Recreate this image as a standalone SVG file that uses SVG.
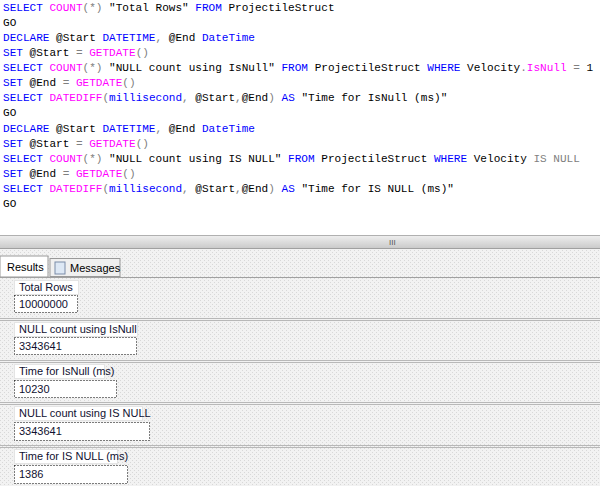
<svg xmlns="http://www.w3.org/2000/svg" width="600" height="486" viewBox="0 0 600 486">
<defs>
<style>
.c{font-family:"Liberation Mono",monospace;font-size:11.05px;fill:#000;white-space:pre}
.k{fill:#0000ff}.f{fill:#ff00ff}.g{fill:#808080}
.r{font-family:"Liberation Sans",Arial,sans-serif;font-size:11px;fill:#101030}
.hd{fill:#fff;stroke:#e4e4e4}
.vl{fill:#fff;stroke:#000;stroke-dasharray:1 2}
.sep{stroke:#b8b8b8;stroke-width:1}
</style>
<pattern id="dots" width="4" height="4" patternUnits="userSpaceOnUse">
<rect width="4" height="4" fill="#f2f2f2"/><rect width="1" height="1" fill="#d8d8d8"/><rect x="2" y="2" width="1" height="1" fill="#d8d8d8"/>
</pattern>
<linearGradient id="bar" x1="0" y1="0" x2="0" y2="1"><stop offset="0" stop-color="#f0f0f0"/><stop offset="1" stop-color="#c8c8c8"/></linearGradient>
</defs>
<rect width="600" height="486" fill="#fff"/>
<g id="code">
<text class="c" x="3" y="11"><tspan class="k">SELECT</tspan> <tspan class="f">COUNT</tspan><tspan class="g">(*)</tspan> "Total Rows" <tspan class="k">FROM</tspan> ProjectileStruct</text>
<text class="c" x="3" y="26">GO</text>
<text class="c" x="3" y="41"><tspan class="k">DECLARE</tspan> @Start <tspan class="k">DATETIME</tspan><tspan class="g">,</tspan> @End <tspan class="k">DateTime</tspan></text>
<text class="c" x="3" y="56"><tspan class="k">SET</tspan> @Start <tspan class="g">=</tspan> <tspan class="f">GETDATE</tspan><tspan class="g">()</tspan></text>
<text class="c" x="3" y="71"><tspan class="k">SELECT</tspan> <tspan class="f">COUNT</tspan><tspan class="g">(*)</tspan> "NULL count using IsNull" <tspan class="k">FROM</tspan> ProjectileStruct <tspan class="k">WHERE</tspan> Velocity<tspan class="g">.</tspan><tspan class="f">IsNull</tspan> <tspan class="g">=</tspan> 1</text>
<text class="c" x="3" y="86"><tspan class="k">SET</tspan> @End <tspan class="g">=</tspan> <tspan class="f">GETDATE</tspan><tspan class="g">()</tspan></text>
<text class="c" x="3" y="101"><tspan class="k">SELECT</tspan> <tspan class="f">DATEDIFF</tspan><tspan class="g">(</tspan><tspan class="k">millisecond</tspan><tspan class="g">,</tspan> @Start<tspan class="g">,</tspan>@End<tspan class="g">)</tspan> <tspan class="k">AS</tspan> "Time for IsNull (ms)"</text>
<text class="c" x="3" y="116">GO</text>
<text class="c" x="3" y="132"><tspan class="k">DECLARE</tspan> @Start <tspan class="k">DATETIME</tspan><tspan class="g">,</tspan> @End <tspan class="k">DateTime</tspan></text>
<text class="c" x="3" y="147"><tspan class="k">SET</tspan> @Start <tspan class="g">=</tspan> <tspan class="f">GETDATE</tspan><tspan class="g">()</tspan></text>
<text class="c" x="3" y="162"><tspan class="k">SELECT</tspan> <tspan class="f">COUNT</tspan><tspan class="g">(*)</tspan> "NULL count using IS NULL" <tspan class="k">FROM</tspan> ProjectileStruct <tspan class="k">WHERE</tspan> Velocity <tspan class="g">IS NULL</tspan></text>
<text class="c" x="3" y="177"><tspan class="k">SET</tspan> @End <tspan class="g">=</tspan> <tspan class="f">GETDATE</tspan><tspan class="g">()</tspan></text>
<text class="c" x="3" y="192"><tspan class="k">SELECT</tspan> <tspan class="f">DATEDIFF</tspan><tspan class="g">(</tspan><tspan class="k">millisecond</tspan><tspan class="g">,</tspan> @Start<tspan class="g">,</tspan>@End<tspan class="g">)</tspan> <tspan class="k">AS</tspan> "Time for IS NULL (ms)"</text>
<text class="c" x="3" y="207">GO</text>
</g>
<g id="splitter">
<rect x="0" y="235" width="600" height="14" fill="url(#bar)"/>
<line x1="0" y1="235.5" x2="600" y2="235.5" stroke="#b0b0b0"/>
<line x1="0" y1="248.5" x2="600" y2="248.5" stroke="#a0a0a0"/>
<text x="389" y="245" font-family="Liberation Sans,sans-serif" font-size="8" fill="#555">III</text>
</g>
<rect x="0" y="249" width="600" height="237" fill="url(#dots)"/>
<g id="tabs">
<rect x="0" y="256" width="48" height="21" fill="#fff" stroke="#999"/>
<text class="r" x="7" y="271" style="fill:#000">Results</text>
<rect x="50" y="258.5" width="70" height="18" fill="#f0f0f0" stroke="#999"/>
<rect x="55" y="262" width="10" height="12" fill="#dde8f5" stroke="#7a8ca8"/>
<text class="r" x="70" y="272" style="fill:#000">Messages</text>
<line x1="0" y1="277.5" x2="600" y2="277.5" stroke="#a0a0a0"/>
</g>
<g id="r1">
<rect class="hd" x="14.5" y="280.5" width="64" height="14"/><text class="r" x="19" y="291">Total Rows</text>
<rect class="vl" x="14.5" y="295.5" width="63" height="17"/><text class="r" x="19" y="308">10000000</text>
</g>
<g id="seps">
<line class="sep" x1="0" y1="318.5" x2="600" y2="318.5"/><line class="sep" x1="0" y1="320.5" x2="600" y2="320.5"/>
<line class="sep" x1="0" y1="360.5" x2="600" y2="360.5"/><line class="sep" x1="0" y1="362.5" x2="600" y2="362.5"/>
<line class="sep" x1="0" y1="402.5" x2="600" y2="402.5"/><line class="sep" x1="0" y1="404.5" x2="600" y2="404.5"/>
<line class="sep" x1="0" y1="445.5" x2="600" y2="445.5"/><line class="sep" x1="0" y1="447.5" x2="600" y2="447.5"/>
</g>
<g id="r2">
<rect class="hd" x="14.5" y="322.5" width="123" height="14"/><text class="r" x="19" y="333">NULL count using IsNull</text>
<rect class="vl" x="14.5" y="337.5" width="122" height="17"/><text class="r" x="19" y="350">3343641</text>
</g>
<g id="r3">
<rect class="hd" x="14.5" y="364.5" width="90" height="14"/><text class="r" x="19" y="375">Time for IsNull (ms)</text>
<rect class="vl" x="14.5" y="380.5" width="102" height="17"/><text class="r" x="19" y="393">10230</text>
</g>
<g id="r4">
<rect class="hd" x="14.5" y="406.5" width="128" height="14"/><text class="r" x="19" y="417">NULL count using IS NULL</text>
<rect class="vl" x="14.5" y="422.5" width="135" height="18"/><text class="r" x="19" y="435">3343641</text>
</g>
<g id="r5">
<rect class="hd" x="14.5" y="449.5" width="103" height="14"/><text class="r" x="19" y="460">Time for IS NULL (ms)</text>
<rect class="vl" x="14.5" y="465.5" width="113" height="18"/><text class="r" x="19" y="478">1386</text>
</g>
</svg>
